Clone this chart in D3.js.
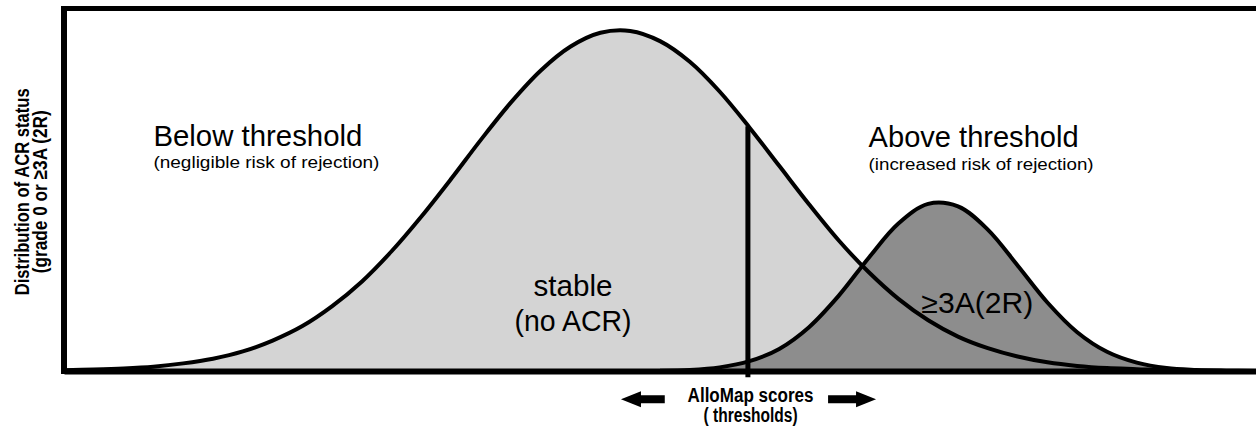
<!DOCTYPE html>
<html lang="en">
<head>
  <meta charset="UTF-8">
  <title>AlloMap score distributions</title>
  <script src="https://d3js.org/d3.v7.min.js"></script>
  <style>
    body { margin: 0; background: #fff; }
    svg { display: block; font-family: "Liberation Sans", Arial, sans-serif; }
    .curve { fill: none; stroke: #000; stroke-width: 4; stroke-linejoin: round; }
    .frame path { stroke: #000; }
  </style>
</head>
<body>
  <svg width="1256" height="429"></svg>

  <script>
    // score positions (arbitrary units) and relative densities
    const stableScores = [0,1,2,3,4,5,6,7,8,9,10,11,12,13,14,15,16,17,18,19,20,
                          21,22,23,24,25,26,27,28,29,30,31,32,33,34,35,36,37,38,39,40];
    const stableDensity = [0.002,0.004,0.007,0.012,0.021,0.034,0.054,0.084,0.124,0.179,0.247,
                           0.331,0.427,0.531,0.639,0.741,0.829,0.895,0.933,0.938,0.910,
                           0.853,0.771,0.672,0.566,0.460,0.360,0.273,0.199,0.140,0.095,
                           0.063,0.040,0.024,0.014,0.008,0.005,0.002,0.001,0,0];
    const rejectScores = [20,21,22,23,24,25,26,27,28,29,30,31,32,33,34,35,36,37,38,39,40];
    const rejectDensity = [0.001,0.003,0.010,0.027,0.061,0.121,0.208,0.312,0.407,0.461,0.454,
                           0.390,0.291,0.189,0.107,0.053,0.023,0.008,0.003,0.001,0];
    const threshold = 22.95;
    const thresholdTop = 0.675;

    const svg = d3.select('svg');
    const x = d3.scaleLinear().domain([0, 40]).range([64, 1256]);
    const y = d3.scaleLinear().domain([0, 1]).range([371, 8.5]);

    const stable = stableScores.map((s, i) => ({ s, v: stableDensity[i] }));
    const reject = rejectScores.map((s, i) => ({ s, v: rejectDensity[i] }));

    const area = d3.area().x(d => x(d.s)).y0(y(0)).y1(d => y(d.v)).curve(d3.curveCatmullRom);
    const line = d3.line().x(d => x(d.s)).y(d => y(d.v)).curve(d3.curveCatmullRom);

    svg.append('path').datum(stable).attr('d', area).attr('fill', '#d4d4d4');
    svg.append('path').datum(reject).attr('d', area).attr('fill', '#8d8d8d');
    svg.append('path').datum(stable).attr('class', 'curve').attr('d', line);
    svg.append('path').datum(reject).attr('class', 'curve').attr('d', line);

    // threshold marker
    svg.append('line')
      .attr('x1', x(threshold)).attr('x2', x(threshold))
      .attr('y1', y(thresholdTop)).attr('y2', y(-0.017))
      .attr('stroke', '#000').attr('stroke-width', 5);

    // frame: bottom and left axes without ticks, plus a top rule
    svg.append('g').attr('class', 'frame')
      .attr('transform', `translate(0,${y(0)})`)
      .call(d3.axisBottom(x).tickValues([]).tickSizeOuter(0))
      .select('.domain').attr('stroke-width', 6);
    svg.append('g').attr('class', 'frame')
      .attr('transform', `translate(${x(0)},0)`)
      .call(d3.axisLeft(y).tickValues([]).tickSizeOuter(0))
      .select('.domain').attr('stroke-width', 6).attr('d', `M0,${y(0) + 3}V${y(1) - 2.5}`);
    svg.append('line')
      .attr('x1', x(0) - 3).attr('x2', x(40))
      .attr('y1', y(1)).attr('y2', y(1))
      .attr('stroke', '#000').attr('stroke-width', 5);

    // annotations
    function label(t, px, py, size, len, anchor, weight) {
      return svg.append('text')
        .attr('x', px).attr('y', py)
        .attr('font-size', size)
        .attr('font-weight', weight || 'normal')
        .attr('text-anchor', anchor || 'start')
        .attr('textLength', len).attr('lengthAdjust', 'spacingAndGlyphs')
        .text(t);
    }
    label('Below threshold', x(3.0), y(0.62), 29, 209);
    label('(negligible risk of rejection)', x(3.0), y(0.561), 16, 226);
    label('Above threshold', x(27.0), y(0.617), 29, 210);
    label('(increased risk of rejection)', x(27.0), y(0.555), 16, 225);
    label('stable', x(17.08), y(0.207), 29, 79, 'middle');
    label('(no ACR)', x(17.08), y(0.11), 29, 117, 'middle');
    label('\u22653A(2R)', x(30.65), y(0.16), 29, 112, 'middle');
    label('AlloMap scores', x(23.04), y(-0.085), 20, 126, 'middle', 'bold');
    label('( thresholds)', x(23.04), y(-0.141), 20, 94, 'middle', 'bold');

    // y-axis title
    const yt = svg.append('g').attr('transform', `translate(0,${(y(0) + y(1)) / 2 + 2}) rotate(-90)`);
    yt.append('text').attr('x', 0).attr('y', 29).attr('text-anchor', 'middle')
      .attr('font-size', 21).attr('font-weight', 'bold')
      .attr('textLength', 207).attr('lengthAdjust', 'spacingAndGlyphs')
      .text('Distribution of ACR status');
    yt.append('text').attr('x', 0).attr('y', 47).attr('text-anchor', 'middle')
      .attr('font-size', 21).attr('font-weight', 'bold')
      .attr('textLength', 163).attr('lengthAdjust', 'spacingAndGlyphs')
      .text('(grade 0 or \u22653A (2R)');

    // direction arrows below the axis
    const arrowY = y(-0.078);
    function arrow(tail, tip) {
      const dir = Math.sign(tip - tail);
      const headStart = tip - dir * 20;
      svg.append('path')
        .attr('d', `M${tail},${arrowY - 4}H${headStart}V${arrowY - 8}L${tip},${arrowY}` +
                   `L${headStart},${arrowY + 8}V${arrowY + 4}H${tail}Z`)
        .attr('fill', '#000');
    }
    arrow(x(20.16), x(18.69));
    arrow(x(25.64), x(27.25));
  </script>
</body>
</html>
